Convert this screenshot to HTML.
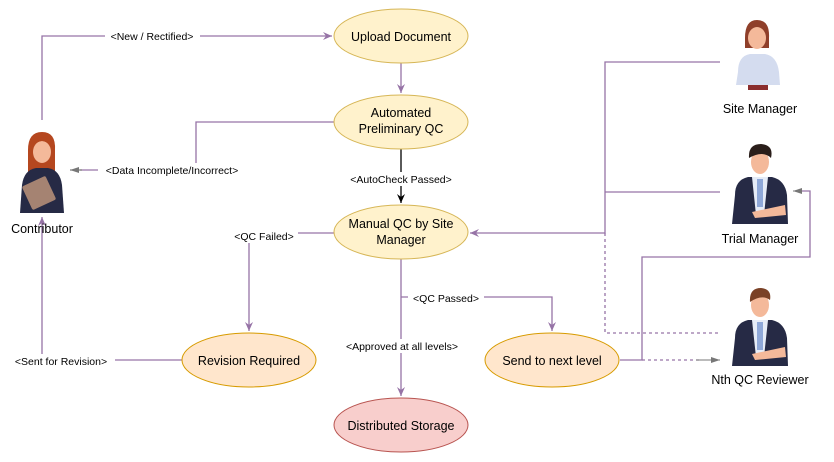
<!DOCTYPE html>
<html><head><meta charset="utf-8"><style>
html,body{margin:0;padding:0;background:#fff;}
svg{display:block;font-family:"Liberation Sans",Arial,sans-serif;}
.n{font-size:12.5px;fill:#000;text-anchor:middle;}
.l{font-size:10.5px;fill:#000;text-anchor:middle;}
.p{stroke:#9673a6;stroke-width:1.3;fill:none;}
</style></head><body>
<svg width="834" height="462" viewBox="0 0 834 462" xmlns="http://www.w3.org/2000/svg">
<defs>
<marker id="ap" markerWidth="10" markerHeight="10" refX="9" refY="5" orient="auto" markerUnits="userSpaceOnUse"><path d="M0,1 L9,5 L0,9 L3,5 z" fill="#9673a6"/></marker>
<marker id="ak" markerWidth="10" markerHeight="10" refX="9" refY="5" orient="auto" markerUnits="userSpaceOnUse"><path d="M0,1 L9,5 L0,9 L3,5 z" fill="#000"/></marker>
<marker id="ag" markerWidth="10" markerHeight="10" refX="9" refY="5" orient="auto" markerUnits="userSpaceOnUse"><path d="M0,2 L9,5 L0,8 z" fill="#777"/></marker>
</defs>

<!-- connectors -->
<path class="p" d="M42,120 V36 H332" marker-end="url(#ap)"/>
<rect x="105" y="29" width="95" height="14" fill="#fff"/>
<text class="l" x="152" y="40">&lt;New / Rectified&gt;</text>

<path class="p" d="M401,63 V93" marker-end="url(#ap)"/>

<path class="p" d="M334,122 H196 V170 H80"/>
<path d="M82,170 H70" stroke="#777" stroke-width="1.2" marker-end="url(#ag)"/>
<rect x="98" y="163" width="148" height="14" fill="#fff"/>
<text class="l" x="172" y="174">&lt;Data Incomplete/Incorrect&gt;</text>

<path d="M401,149 V203" stroke="#000" stroke-width="1.3" marker-end="url(#ak)"/>
<rect x="343" y="172" width="117" height="14" fill="#fff"/>
<text class="l" x="401" y="183">&lt;AutoCheck Passed&gt;</text>

<path class="p" d="M334,233 H249 V331" marker-end="url(#ap)"/>
<rect x="232" y="229" width="66" height="14" fill="#fff"/>
<text class="l" x="264" y="240">&lt;QC Failed&gt;</text>

<path class="p" d="M182,360 H42 V217" marker-end="url(#ap)"/>
<rect x="7" y="354" width="108" height="14" fill="#fff"/>
<text class="l" x="61" y="365">&lt;Sent for Revision&gt;</text>

<path class="p" d="M401,259 V396" marker-end="url(#ap)"/>
<rect x="338" y="339" width="128" height="14" fill="#fff"/>
<text class="l" x="402" y="350">&lt;Approved at all levels&gt;</text>

<path class="p" d="M401,297 H552 V331" marker-end="url(#ap)"/>
<rect x="408" y="291" width="76" height="14" fill="#fff"/>
<text class="l" x="446" y="302">&lt;QC Passed&gt;</text>

<path class="p" d="M720,62 H605 V233 H470" marker-end="url(#ap)"/>
<path class="p" d="M720,192 H605"/>
<path class="p" d="M605,233 V333 H720" stroke-dasharray="3,3"/>

<path class="p" d="M620,360 H642 V257 H810 V191 H795"/>
<path d="M800,191 H793" stroke="#777" stroke-width="1" marker-end="url(#ag)"/>
<path class="p" d="M642,360 H700" stroke-dasharray="3,3"/>
<path d="M696,360 H720" stroke="#777" stroke-width="1" marker-end="url(#ag)"/>

<!-- nodes -->
<ellipse cx="401" cy="36" rx="67" ry="27" fill="#fff2cc" stroke="#d6b656"/>
<text class="n" x="401" y="41">Upload Document</text>
<ellipse cx="401" cy="122" rx="67" ry="27" fill="#fff2cc" stroke="#d6b656"/>
<text class="n" x="401" y="117">Automated</text>
<text class="n" x="401" y="133">Preliminary QC</text>
<ellipse cx="401" cy="232" rx="67" ry="27" fill="#fff2cc" stroke="#d6b656"/>
<text class="n" x="401" y="228">Manual QC by Site</text>
<text class="n" x="401" y="244">Manager</text>
<ellipse cx="249" cy="360" rx="67" ry="27" fill="#ffe6cc" stroke="#d79b00"/>
<text class="n" x="249" y="365">Revision Required</text>
<ellipse cx="552" cy="360" rx="67" ry="27" fill="#ffe6cc" stroke="#d79b00"/>
<text class="n" x="552" y="365">Send to next level</text>
<ellipse cx="401" cy="425" rx="67" ry="27" fill="#f8cecc" stroke="#b85450"/>
<text class="n" x="401" y="430">Distributed Storage</text>

<!-- Contributor -->
<g>
<path d="M28,150 Q28,132 42,132 Q56,132 55,150 L55,175 L28,175 z" fill="#b5471f"/>
<path d="M22,185 Q24,170 36,168 L48,168 Q60,170 62,185 L64,213 L20,213 z" fill="#262a45"/>
<ellipse cx="42" cy="152" rx="9" ry="11" fill="#f4b99a"/>
<path d="M33,146 Q42,136 51,146 L51,142 Q42,132 33,142z" fill="#b5471f"/>
<rect x="26" y="180" width="26" height="26" rx="2" fill="#a58372" transform="rotate(-25 39 193)"/>
<text class="n" x="42" y="233">Contributor</text>
</g>

<!-- Site Manager -->
<g>
<path d="M745,38 Q745,20 757,20 Q770,20 769,38 L769,48 L745,48z" fill="#8f3f2a"/>
<ellipse cx="757" cy="38" rx="9" ry="11" fill="#f4b99a"/>
<path d="M738,72 Q738,56 750,54 L765,54 Q777,56 779,72 L780,85 L736,85 z" fill="#d4dcef"/>
<rect x="748" y="85" width="20" height="5" fill="#8b2e2e"/>
<text class="n" x="760" y="113">Site Manager</text>
</g>

<!-- Trial Manager -->
<g>
<path d="M735,195 Q735,180 748,177 L772,177 Q785,180 787,195 L788,224 L732,224 z" fill="#262a45"/>
<path d="M752,177 L768,177 L764,215 L756,215 z" fill="#e6ecf7"/>
<rect x="757" y="179" width="6" height="28" fill="#8fa8d8"/>
<ellipse cx="760" cy="162" rx="9" ry="12" fill="#f4b99a"/>
<path d="M749,158 Q748,144 761,144 Q774,145 771,158 Q763,150 749,158z" fill="#2a1e1a"/>
<path d="M752,212 L785,205 L786,215 L755,218z" fill="#f4b99a"/>
<text class="n" x="760" y="243">Trial Manager</text>
</g>

<!-- Nth QC Reviewer -->
<g>
<path d="M735,338 Q735,323 748,320 L772,320 Q785,323 787,338 L788,366 L732,366 z" fill="#262a45"/>
<path d="M752,320 L768,320 L764,357 L756,357 z" fill="#e6ecf7"/>
<rect x="757" y="322" width="6" height="28" fill="#8fa8d8"/>
<ellipse cx="760" cy="305" rx="9" ry="12" fill="#f4b99a"/>
<path d="M750,302 Q749,288 761,288 Q772,289 770,300 Q762,294 750,302z" fill="#7a4126"/>
<path d="M752,354 L785,347 L786,357 L755,360z" fill="#f4b99a"/>
<text class="n" x="760" y="384">Nth QC Reviewer</text>
</g>
</svg>
</body></html>
